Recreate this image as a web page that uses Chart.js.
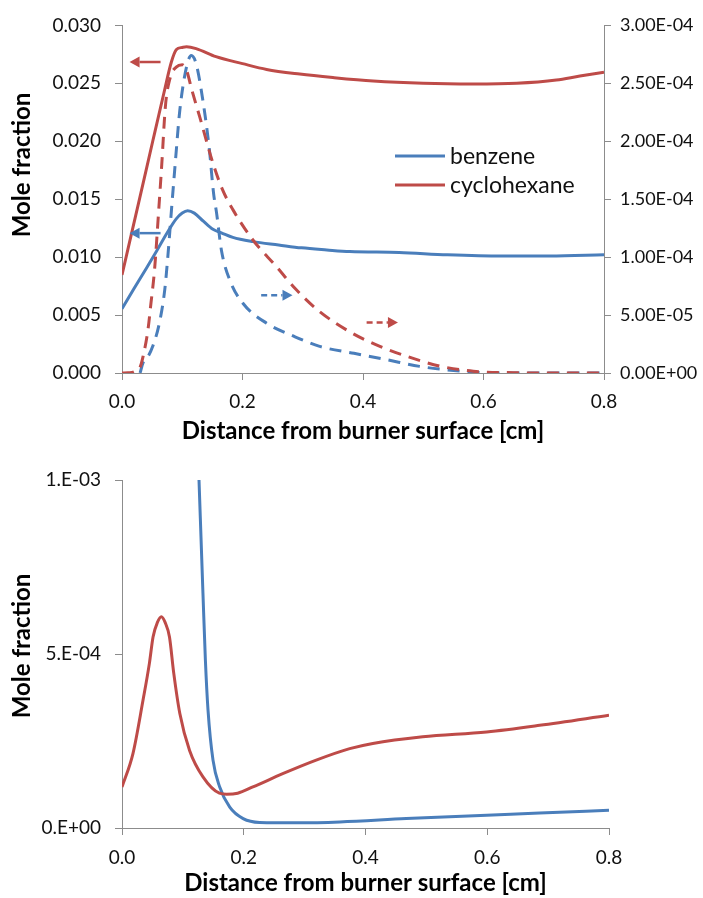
<!DOCTYPE html>
<html>
<head>
<meta charset="utf-8">
<script src="https://cdn.jsdelivr.net/npm/chart.js@4.4.1/dist/chart.umd.min.js"></script>
<style>
  html, body { margin: 0; padding: 0; background: #ffffff; }
  #wrap { position: relative; width: 703px; height: 898px; overflow: hidden; }
  .panel { position: absolute; left: 0; width: 703px; }
  #p1 { top: 0; height: 450px; }
  #p2 { top: 450px; height: 448px; }
</style>
</head>
<body>
<div id="wrap">
  <div class="panel" id="p1"><canvas id="c1"></canvas></div>
  <div class="panel" id="p2"><canvas id="c2"></canvas></div>
</div>
<script>
// ---- Series names ----
const seriesNames = ['benzene', 'cyclohexane'];

// ---- Upper panel: major species (left axis, solid lines) ----
const xBenzeneMajor = [0, 0.02, 0.04, 0.057, 0.075, 0.09, 0.1, 0.109, 0.12, 0.135, 0.151, 0.165, 0.184, 0.217, 0.26, 0.298, 0.34, 0.378, 0.46, 0.54, 0.63, 0.71, 0.8];
const benzeneMajor  = [0.00554, 0.0073, 0.0090, 0.01048, 0.0121, 0.0133, 0.0138, 0.0140, 0.0138, 0.0131, 0.0124, 0.0121, 0.0117, 0.01134, 0.01105, 0.0108, 0.01062, 0.01048, 0.0104, 0.0102, 0.01009, 0.0101, 0.0102];

const xCyclohexaneMajor = [0, 0.029, 0.051, 0.0706, 0.0817, 0.09, 0.1, 0.107, 0.123, 0.156, 0.2, 0.24, 0.295, 0.35, 0.417, 0.5, 0.583, 0.655, 0.721, 0.76, 0.8];
const cyclohexaneMajor  = [0.00847, 0.0150, 0.0200, 0.0244, 0.0268, 0.0279, 0.0281, 0.02816, 0.0280, 0.0273, 0.0267, 0.0262, 0.0258, 0.0255, 0.0252, 0.0250, 0.02494, 0.0250, 0.02528, 0.02563, 0.02595];

// ---- Upper panel: minor species (right axis, dashed lines) ----
const xBenzeneMinor = [0.03, 0.035, 0.043, 0.051, 0.062, 0.071, 0.076, 0.082, 0.089, 0.096, 0.107, 0.115, 0.123, 0.134, 0.145, 0.152, 0.157, 0.165, 0.179, 0.201, 0.24, 0.284, 0.328, 0.385, 0.439, 0.494, 0.527, 0.594, 0.65, 0.8];
const benzeneMinor  = [0, 0.9e-5, 1.4e-5, 2.3e-5, 4.3e-5, 7.2e-5, 1.0e-4, 1.4e-4, 1.85e-4, 2.27e-4, 2.64e-4, 2.74e-4, 2.67e-4, 2.36e-4, 1.93e-4, 1.55e-4, 1.38e-4, 1.06e-4, 8.0e-5, 6.0e-5, 4.3e-5, 3.2e-5, 2.3e-5, 1.7e-5, 1.15e-5, 5.7e-6, 3.4e-6, 0.5e-6, 0, 0];

const xCyclohexaneMinor = [0, 0.01, 0.02, 0.03, 0.035, 0.043, 0.048, 0.054, 0.061, 0.066, 0.072, 0.08, 0.09, 0.1, 0.108, 0.115, 0.129, 0.151, 0.167, 0.184, 0.217, 0.256, 0.289, 0.328, 0.38, 0.428, 0.472, 0.527, 0.583, 0.65, 0.7, 0.8];
const cyclohexaneMinor  = [0, 0.2e-6, 1e-6, 5e-6, 1.43e-5, 3.7e-5, 6.0e-5, 8.9e-5, 1.41e-4, 1.8e-4, 2.3e-4, 2.55e-4, 2.64e-4, 2.66e-4, 2.6e-4, 2.46e-4, 2.21e-4, 1.81e-4, 1.58e-4, 1.41e-4, 1.15e-4, 9.2e-5, 7.2e-5, 5.3e-5, 3.5e-5, 2.3e-5, 1.45e-5, 6e-6, 1.5e-6, 0.3e-6, 0, 0];

// ---- Lower panel ----
const xBenzeneLower = [0.1265, 0.133, 0.137, 0.1413, 0.1495, 0.1605, 0.177, 0.199, 0.226, 0.29, 0.358, 0.467, 0.599, 0.686, 0.8];
const benzeneLower  = [1.0e-3, 6.74e-4, 4.82e-4, 3.39e-4, 1.95e-4, 1.18e-4, 6.0e-5, 2.7e-5, 1.6e-5, 1.5e-5, 1.75e-5, 2.7e-5, 3.65e-5, 4.3e-5, 5.1e-5];

const xCyclohexaneLower = [0, 0.018, 0.0345, 0.045, 0.051, 0.058, 0.0647, 0.071, 0.078, 0.085, 0.095, 0.111, 0.133, 0.16, 0.172, 0.19, 0.215, 0.264, 0.319, 0.374, 0.412, 0.494, 0.599, 0.686, 0.8];
const cyclohexaneLower  = [1.18e-4, 2.14e-4, 3.67e-4, 4.73e-4, 5.49e-4, 5.9e-4, 6.07e-4, 5.9e-4, 5.49e-4, 4.45e-4, 3.29e-4, 2.23e-4, 1.47e-4, 1.0e-4, 9.7e-5, 1.0e-4, 1.18e-4, 1.56e-4, 1.95e-4, 2.28e-4, 2.43e-4, 2.62e-4, 2.76e-4, 2.95e-4, 3.24e-4];

// ---- Axis ranges / ticks ----
const xRange = { min: 0, max: 0.8, step: 0.2 };
const leftRange = { min: 0, max: 0.030, step: 0.005 };
const rightRange = { min: 0, max: 3.0e-4, step: 5.0e-5 };
const lowerRange = { min: 0, max: 1.0e-3, step: 5.0e-4 };

// ---- Styling ----
const BLUE = '#4A7EBB';
const RED = '#BE4B48';
const AXIS = '#8C8C8C';
const FONT = 'Lato, "Open Sans", sans-serif';
const TICK_SIZE = 19;
const DASH = [12, 8];

const pairs = (xs, ys) => xs.map((x, i) => ({ x: x, y: ys[i] }));

// Excel-like scientific label, e.g. 3.00E-04 or 1.E-03
function sci(v, digits) {
  const parts = Number(v).toExponential(digits).split('e');
  const n = parseInt(parts[1], 10);
  const mant = digits === 0 ? parts[0] + '.' : parts[0];
  return mant + 'E' + (n < 0 ? '-' : '+') + String(Math.abs(n)).padStart(2, '0');
}

function tickOpts(step, padding, callback, size) {
  return { stepSize: step, color: '#111111', font: { family: FONT, size: size || TICK_SIZE }, padding: padding, maxRotation: 0, autoSkip: false, callback: callback };
}

function axis(range, extra) {
  const base = {
    type: 'linear',
    min: range.min,
    max: range.max,
    border: { display: true, color: AXIS, width: 1 },
    grid: { display: true, drawOnChartArea: false, drawTicks: true, tickLength: 7, tickColor: AXIS, tickWidth: 1 }
  };
  return Object.assign(base, extra || {});
}

function line(label, pts, color, yAxisID, dashed, order) {
  return {
    label: label,
    data: pts,
    yAxisID: yAxisID,
    borderColor: color,
    backgroundColor: color,
    borderWidth: 3,
    borderDash: dashed ? DASH : [],
    pointRadius: 0,
    pointHoverRadius: 0,
    fill: false,
    cubicInterpolationMode: 'monotone',
    order: order
  };
}

// Draws axis titles, pointer arrows and the inset legend
const decor = {
  id: 'decor',
  afterDraw(chart, args, opts) {
    const ctx = chart.ctx;
    const area = chart.chartArea;
    ctx.save();

    (opts.arrows || []).forEach(a => {
      const xs = chart.scales[a.xAxis], ys = chart.scales[a.yAxis];
      const x0 = xs.getPixelForValue(a.from[0]), y0 = ys.getPixelForValue(a.from[1]);
      const x1 = xs.getPixelForValue(a.to[0]), y1 = ys.getPixelForValue(a.to[1]);
      const ang = Math.atan2(y1 - y0, x1 - x0);
      const head = 10, half = 5.5;
      const bx = x1 - Math.cos(ang) * head, by = y1 - Math.sin(ang) * head;
      ctx.strokeStyle = a.color;
      ctx.fillStyle = a.color;
      ctx.lineWidth = 2.5;
      ctx.setLineDash(a.dashed ? [6, 4] : []);
      ctx.beginPath();
      ctx.moveTo(x0, y0);
      ctx.lineTo(bx, by);
      ctx.stroke();
      ctx.setLineDash([]);
      ctx.beginPath();
      ctx.moveTo(x1, y1);
      ctx.lineTo(bx - Math.sin(ang) * half, by + Math.cos(ang) * half);
      ctx.lineTo(bx + Math.sin(ang) * half, by - Math.cos(ang) * half);
      ctx.closePath();
      ctx.fill();
    });

    if (opts.legend) {
      const lg = opts.legend;
      ctx.font = lg.font;
      ctx.textAlign = 'left';
      ctx.textBaseline = 'middle';
      lg.items.forEach((it, i) => {
        const y = lg.y + i * lg.rowGap;
        ctx.strokeStyle = it.color;
        ctx.lineWidth = 3;
        ctx.setLineDash([]);
        ctx.beginPath();
        ctx.moveTo(lg.x, y);
        ctx.lineTo(lg.x + lg.swatch, y);
        ctx.stroke();
        ctx.fillStyle = '#111111';
        ctx.fillText(it.label, lg.x + lg.swatch + 5, y + 1);
      });
    }

    (opts.titles || []).forEach(t => {
      ctx.save();
      ctx.font = t.font;
      ctx.fillStyle = '#000000';
      ctx.textAlign = 'center';
      ctx.textBaseline = 'middle';
      const x = t.x === 'center' ? (area.left + area.right) / 2 : t.x;
      const y = t.y === 'below' ? area.bottom + t.offset : t.y;
      ctx.translate(x, y);
      if (t.rotate) ctx.rotate(t.rotate);
      ctx.fillText(t.text, 0, 0);
      ctx.restore();
    });

    ctx.restore();
  }
};

const xTitle = 'Distance from burner surface [cm]';
const yTitle = 'Mole fraction';

// ---- Upper chart ----
new Chart(document.getElementById('c1'), {
  type: 'line',
  data: {
    datasets: [
      line(seriesNames[0], pairs(xBenzeneMajor, benzeneMajor), BLUE, 'y', false, 3),
      line(seriesNames[1], pairs(xCyclohexaneMajor, cyclohexaneMajor), RED, 'y', false, 2),
      line(seriesNames[0], pairs(xBenzeneMinor, benzeneMinor), BLUE, 'y1', true, 1),
      line(seriesNames[1], pairs(xCyclohexaneMinor, cyclohexaneMinor), RED, 'y1', true, 0)
    ]
  },
  options: {
    responsive: true,
    maintainAspectRatio: false,
    animation: false,
    events: [],
    layout: { padding: { top: 25, left: 0, right: 0, bottom: 0 } },
    scales: {
      x: axis(xRange, {
        position: 'bottom',
        ticks: tickOpts(xRange.step, 10, v => Number(v).toFixed(1)),
        afterFit: s => { s.height = 77; }
      }),
      y: axis(leftRange, {
        position: 'left',
        ticks: tickOpts(leftRange.step, 14, v => Number(v).toFixed(3)),
        afterFit: s => { s.width = 122; }
      }),
      y1: axis(rightRange, {
        position: 'right',
        ticks: tickOpts(rightRange.step, 9, v => sci(v, 2), 18),
        afterFit: s => { s.width = 99; }
      })
    },
    plugins: {
      legend: { display: false },
      tooltip: { enabled: false },
      decor: {
        arrows: [
          { xAxis: 'x', yAxis: 'y', from: [0.064, 0.02684], to: [0.0125, 0.02684], color: RED, dashed: false },
          { xAxis: 'x', yAxis: 'y', from: [0.064, 0.01207], to: [0.0125, 0.01207], color: BLUE, dashed: false },
          { xAxis: 'x', yAxis: 'y1', from: [0.231, 6.72e-5], to: [0.283, 6.72e-5], color: BLUE, dashed: true },
          { xAxis: 'x', yAxis: 'y1', from: [0.406, 4.36e-5], to: [0.458, 4.36e-5], color: RED, dashed: true }
        ],
        legend: {
          x: 395, y: 156, rowGap: 29, swatch: 50,
          font: '23px ' + FONT,
          items: [ { label: seriesNames[0], color: BLUE }, { label: seriesNames[1], color: RED } ]
        },
        titles: [
          { text: xTitle, font: 'bold 24px ' + FONT, x: 'center', y: 'below', offset: 58 },
          { text: yTitle, font: 'bold 24px ' + FONT, x: 22.5, y: 165, rotate: -Math.PI / 2 }
        ]
      }
    }
  },
  plugins: [decor]
});

// ---- Lower chart ----
new Chart(document.getElementById('c2'), {
  type: 'line',
  data: {
    datasets: [
      line(seriesNames[0], pairs(xBenzeneLower, benzeneLower), BLUE, 'y', false, 1),
      line(seriesNames[1], pairs(xCyclohexaneLower, cyclohexaneLower), RED, 'y', false, 0)
    ]
  },
  options: {
    responsive: true,
    maintainAspectRatio: false,
    animation: false,
    events: [],
    layout: { padding: { top: 30, left: 0, right: 94, bottom: 0 } },
    scales: {
      x: axis(xRange, {
        position: 'bottom',
        ticks: tickOpts(xRange.step, 11, v => Number(v).toFixed(1)),
        afterFit: s => { s.height = 70; }
      }),
      y: axis(lowerRange, {
        position: 'left',
        ticks: tickOpts(lowerRange.step, 14, v => sci(v, 0)),
        afterFit: s => { s.width = 122; }
      })
    },
    plugins: {
      legend: { display: false },
      tooltip: { enabled: false },
      decor: {
        titles: [
          { text: xTitle, font: 'bold 24px ' + FONT, x: 'center', y: 'below', offset: 55 },
          { text: yTitle, font: 'bold 24px ' + FONT, x: 22.5, y: 196, rotate: -Math.PI / 2 }
        ]
      }
    }
  },
  plugins: [decor]
});
</script>
</body>
</html>
